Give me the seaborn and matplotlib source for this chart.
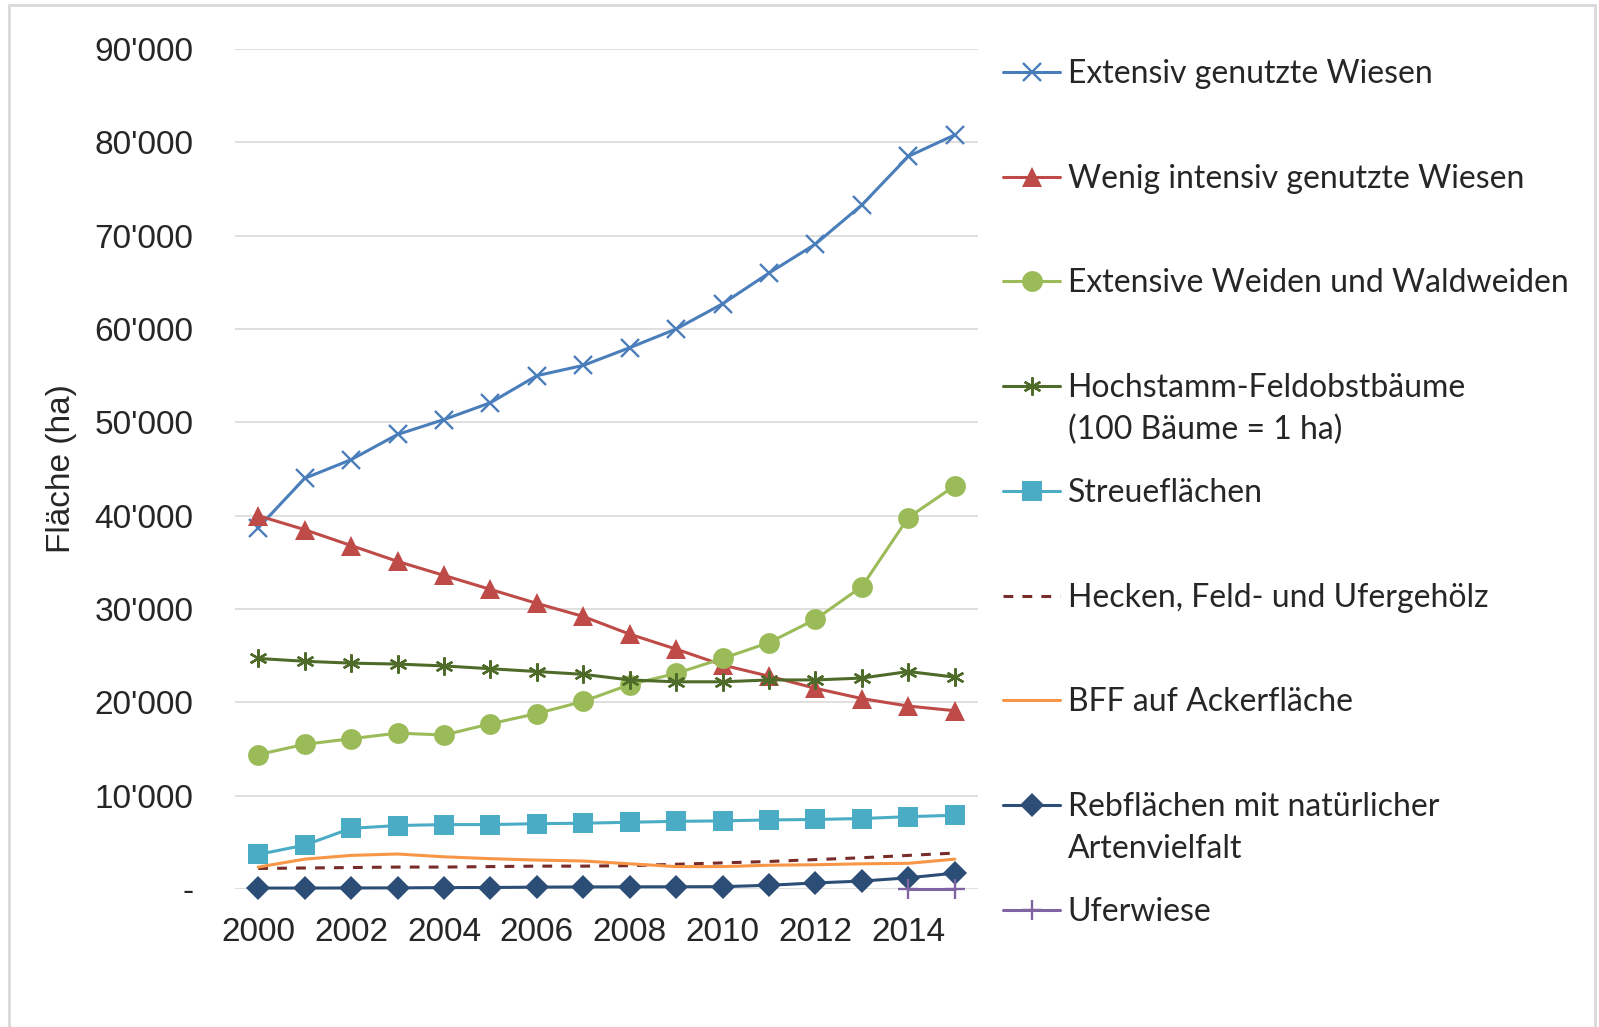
#!/usr/bin/env python
# BFF Flächen 2000-2015, Linien je Typ

import matplotlib.pyplot as plt
import matplotlib.ticker as mticker
import seaborn as sns
from matplotlib.patches import Rectangle

years = list(range(2000, 2016))

extensiv_wiesen = [38700, 44000, 46000, 48700, 50300, 52100, 55000, 56100,
                   58000, 60000, 62700, 66000, 69100, 73300, 78500, 80800]
wenig_intensiv = [40000, 38500, 36800, 35100, 33600, 32100, 30600, 29200,
                  27300, 25700, 24000, 22800, 21500, 20400, 19600, 19100]
extensive_weiden = [14400, 15500, 16100, 16700, 16500, 17700, 18800, 20100,
                    21900, 23100, 24700, 26400, 28900, 32400, 39800, 43200]
hochstamm = [24700, 24400, 24200, 24100, 23900, 23600, 23300, 23000,
             22400, 22200, 22200, 22400, 22400, 22600, 23300, 22700]
streueflaechen = [3700, 4700, 6500, 6800, 6900, 6900, 7000, 7050,
                  7150, 7250, 7300, 7400, 7450, 7550, 7750, 7900]
hecken = [2200, 2250, 2300, 2350, 2350, 2400, 2450, 2450,
          2500, 2650, 2800, 2950, 3150, 3350, 3600, 3850]
bff_acker = [2350, 3200, 3600, 3750, 3450, 3250, 3100, 3000,
             2700, 2400, 2400, 2550, 2600, 2700, 2750, 3200]
rebflaechen = [100, 100, 110, 120, 150, 160, 200, 220,
               230, 240, 250, 400, 650, 850, 1200, 1700]
ufer_years = [2014, 2015]
uferwiese = [30, 30]

y_ticks = [0, 10000, 20000, 30000, 40000, 50000, 60000, 70000, 80000, 90000]
x_ticks = [2000, 2002, 2004, 2006, 2008, 2010, 2012, 2014]


def fmt_thousands(v, pos):
    if v == 0:
        return "-"
    return f"{int(v):,}".replace(",", "'")


def main():
    sns.set_style("white")
    plt.rcParams["font.family"] = ["Liberation Sans", "DejaVu Sans"]

    W, H = 1599, 1027
    fig = plt.figure(figsize=(W / 100, H / 100), dpi=100)
    ax = fig.add_axes([235 / W, 1 - 889 / H, (978 - 235) / W, (889 - 49) / H])

    series = [
        (years, extensiv_wiesen, "Extensiv genutzte Wiesen",
         dict(color="#4A7EBB", marker="x", markersize=12.5, mew=1.7)),
        (years, wenig_intensiv, "Wenig intensiv genutzte Wiesen",
         dict(color="#BE4B48", marker="^", markersize=14, mew=0)),
        (years, extensive_weiden, "Extensive Weiden und Waldweiden",
         dict(color="#9BBB59", marker="o", markersize=15, mew=0)),
        (years, hochstamm, "Hochstamm-Feldobstbäume",
         dict(color="#4F6B2A", marker=(6, 2, 0), markersize=13, mew=1.7)),
        (years, streueflaechen, "Streueflächen",
         dict(color="#4BACC6", marker="s", markersize=14, mew=0)),
        (years, hecken, "Hecken, Feld- und Ufergehölz",
         dict(color="#772C2A", linestyle=(0, (3.2, 3)))),
        (years, bff_acker, "BFF auf Ackerfläche",
         dict(color="#F79646")),
        (years, rebflaechen, "Rebflächen mit natürlicher",
         dict(color="#2C4D75", marker="D", markersize=12.5, mew=0)),
        (ufer_years, uferwiese, "Uferwiese",
         dict(color="#8064A2", marker="+", markersize=14, mew=1.7)),
    ]

    for xs, ys, label, kw in series:
        kw = dict(kw)
        col = kw["color"]
        kw.setdefault("markeredgecolor", col)
        sns.lineplot(x=xs, y=ys, ax=ax, label=label, linewidth=2.2,
                     clip_on=False, **kw)

    ax.set_xlim(1999.5, 2015.5)
    ax.set_ylim(0, 90000)
    ax.set_yticks(y_ticks)
    ax.set_xticks(x_ticks)
    ax.yaxis.set_major_formatter(mticker.FuncFormatter(fmt_thousands))
    ax.grid(axis="y", color="#D9D9D9", linewidth=1.2)
    ax.set_axisbelow(True)
    for s in ax.spines.values():
        s.set_visible(False)
    ax.tick_params(axis="y", length=0, pad=30, labelsize=24)
    ax.tick_params(axis="x", length=0, pad=20, labelsize=24)
    ax.set_xlabel("")
    ax.set_ylabel("Fläche (ha)", fontsize=24)
    ax.yaxis.set_label_coords(-0.212, 0.5)

    # Legende rechts, Calibri-aehnliche Schrift
    handles, labels = ax.get_legend_handles_labels()
    ax.get_legend().remove()
    leg_font = dict(family=["Lato", "DejaVu Sans"], size=23)
    leg = fig.legend(handles, labels, loc="upper left",
                     bbox_to_anchor=(1003 / W, 1 - 59 / H),
                     frameon=False, borderpad=0, borderaxespad=0,
                     handlelength=1.8, handletextpad=0.22,
                     labelspacing=2.34, prop=leg_font)

    # zweite Zeilen der langen Legendeneintraege
    fig.canvas.draw()
    renderer = fig.canvas.get_renderer()
    extra = {3: "(100 Bäume = 1 ha)", 7: "Artenvielfalt"}
    for i, txt in extra.items():
        bb = leg.get_texts()[i].get_window_extent(renderer)
        fig.text(bb.x0 / W, (bb.y0 - 42) / H, txt, ha="left", va="bottom",
                 fontfamily=leg_font["family"], fontsize=leg_font["size"])

    # grauer Rahmen
    fig.add_artist(Rectangle((8.5 / W, -0.05), (1595 - 8.5) / W, 1.05 - 5 / H,
                             transform=fig.transFigure, fill=False,
                             edgecolor="#D9D9D9", linewidth=2))

    plt.savefig("out.png", dpi=100)
    plt.close()


if __name__ == "__main__":
    main()
